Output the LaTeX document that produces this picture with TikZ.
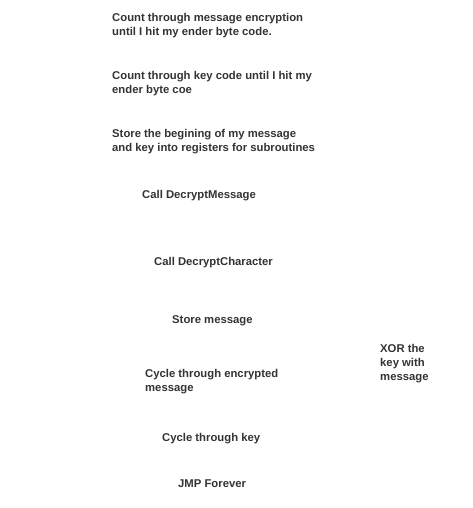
\documentclass[tikz,border=0pt]{standalone}
\usepackage{fontspec}
\setmainfont{Liberation Sans}
\begin{document}
\begin{tikzpicture}[x=1pt,y=-1pt,
  note/.style={anchor=west,align=left,inner sep=0pt,text=black!80,
    font=\bfseries\fontsize{11.3}{14}\selectfont}]
\useasboundingbox (0,0) rectangle (472,508);
\node[note] (n1) at (112,26) {Count through message encryption\\until I hit my ender byte code.};
\node[note] (n2) at (112,84) {Count through key code until I hit my\\ender byte coe};
\node[note] (n3) at (112,142) {Store the begining of my message\\and key into registers for subroutines};
\node[note] (n4) at (142,196) {Call DecryptMessage};
\node[note] (n5) at (154,263) {Call DecryptCharacter};
\node[note] (n6) at (172,321) {Store message};
\node[note] (n7) at (380,364) {XOR the\\key with\\message};
\node[note] (n8) at (145,382) {Cycle through encrypted\\message};
\node[note] (n9) at (162,439) {Cycle through key};
\node[note] (n10) at (178,484) {JMP Forever};
\end{tikzpicture}
\end{document}
